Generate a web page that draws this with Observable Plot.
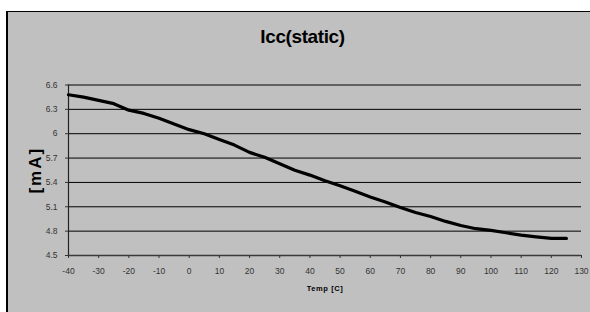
<!DOCTYPE html>
<html><head><meta charset="utf-8">
<script src="https://cdn.jsdelivr.net/npm/d3@7"></script>
<script src="https://cdn.jsdelivr.net/npm/@observablehq/plot@0.6"></script>
<style>
html,body{margin:0;padding:0;background:#fff;}
body{width:590px;height:312px;overflow:hidden;position:relative;font-family:"Liberation Sans",Arial,sans-serif;}
#box{position:absolute;left:6px;top:11px;width:600px;height:320px;background:#c0c0c0;border-top:1px solid #000;border-left:2px solid #000;box-sizing:border-box;}
#chart{position:absolute;left:0;top:0;}
</style></head><body><div id="box"></div><div id="chart"></div>
<script>
const temps = [-40,-35,-30,-25,-20,-15,-10,-5,0,5,10,15,20,25,30,35,40,45,50,55,60,65,70,75,80,85,90,95,100,105,110,115,120,125];
const icc = [6.48,6.45,6.41,6.37,6.29,6.25,6.19,6.12,6.05,6.00,5.93,5.86,5.77,5.71,5.63,5.55,5.49,5.42,5.36,5.29,5.22,5.16,5.09,5.03,4.98,4.92,4.87,4.83,4.81,4.78,4.75,4.73,4.71,4.71];
const yTicks = [4.5,4.8,5.1,5.4,5.7,6,6.3,6.6];
const xTicks = [-40,-30,-20,-10,0,10,20,30,40,50,60,70,80,90,100,110,120,130];
const title = "Icc(static)";
const yLabel = "[mA]";
const xLabel = "Temp [C]";

const data = temps.map((t, i) => ({t, v: icc[i]}));
const font = "Liberation Sans, Arial, sans-serif";

const plot = Plot.plot({
  width: 590, height: 312,
  marginLeft: 68, marginRight: 9, marginTop: 84.5, marginBottom: 57,
  style: {background: "transparent", fontFamily: font, overflow: "visible"},
  x: {domain: [-40, 130]},
  y: {domain: [4.5, 6.6]},
  marks: [
    Plot.gridY(yTicks.slice(1), {stroke: "#000", strokeOpacity: 1, strokeWidth: 1}),
    Plot.ruleX([-40], {stroke: "#222", strokeWidth: 1.2}),
    Plot.ruleY([4.5], {stroke: "#3a3a3a", strokeWidth: 1.6}),
    Plot.axisY(yTicks, {tickSize: 3, tickPadding: 8, tickFormat: d => String(d), fontSize: 8.5, fill: "#333", stroke: "#333", label: null}),
    Plot.axisX(xTicks, {tickSize: 3, tickPadding: 9, tickFormat: d => String(d), fontSize: 8.5, fill: "#333", stroke: "#333", label: null}),
    Plot.line(data, {x: "t", y: "v", stroke: "#000", strokeWidth: 3.2}),
    Plot.text([title], {frameAnchor: "top", dx: -22.5, dy: -48.5, lineAnchor: "middle", fontSize: 19, fontWeight: "bold", fill: "#000"}),
    Plot.text([yLabel], {frameAnchor: "left", dx: -33, rotate: -90, lineAnchor: "middle", textAnchor: "middle", fontSize: 17, fontWeight: "bold", fill: "#000"}),
    Plot.text([xLabel], {frameAnchor: "bottom", dy: 33, lineAnchor: "middle", fontSize: 7.5, fontWeight: "bold", fill: "#000"})
  ]
});
d3.select(plot).selectAll("text").filter(function(){ return this.textContent === yLabel; }).attr("letter-spacing", "2px");
d3.select(plot).selectAll("text").filter(function(){ return this.textContent === xLabel; }).attr("letter-spacing", "0.6px");
d3.select(plot).selectAll("text").filter(function(){ return this.textContent === title; }).attr("letter-spacing", "-0.4px");
document.getElementById("chart").appendChild(plot);
</script></body></html>
